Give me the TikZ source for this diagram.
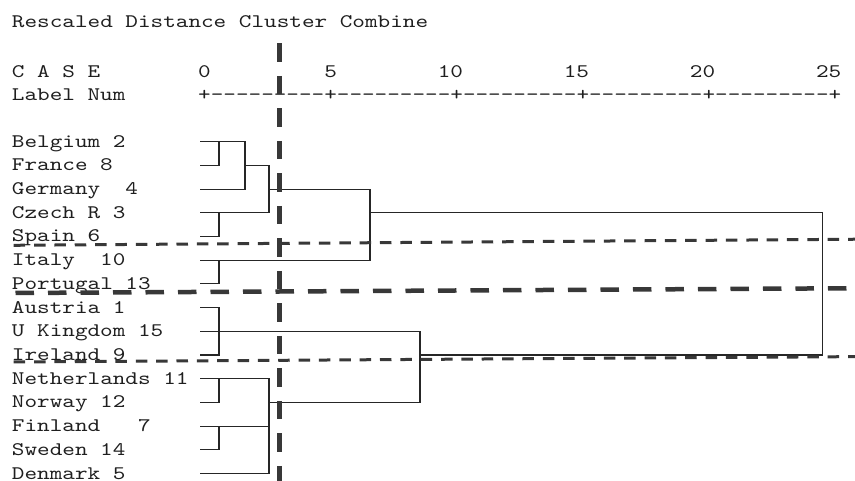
\documentclass[tikz,border=0pt]{standalone}
\usepackage{fontspec}
% Courier-like typewriter face: Latin Modern Mono, widened to a 12.6pt cell
\newfontfamily\spssmono[Extension=.otf, FakeStretch=1.251, Ligatures={TeXOff,CommonOff}]{lmmono10-regular}
\begin{document}
\begin{tikzpicture}[x=1pt, y=-1pt,
  txt/.style={anchor=base west, inner sep=0pt, outer sep=0pt, text depth=0pt,
    font=\spssmono\fontsize{19.2}{23.7}\selectfont, text=black!88},
  num/.style={txt, anchor=base east},
  tree/.style={draw=black!85, line width=1.1pt},
  cutthin/.style={draw=black!78, line width=3pt, dash pattern=on 11.5pt off 8.85pt},
  cutthick/.style={draw=black!78, line width=5pt, dash pattern=on 18.5pt off 14pt}
]
\useasboundingbox (0,0) rectangle (855,481);

% header
\node[txt] (title) at (12,28) {Rescaled Distance Cluster Combine};
\node[txt] (case) at (12,77.5) {C A S E};
\node[txt] (lnum) at (12,101) {Label Num};
\foreach \k/\v in {0/0,1/5,2/10,3/15,4/20,5/25}
  \node[num] (tick\v) at ({204.5+126.1*\k+6.3},77.5) {\v};
\node[txt] (axis) at (198.2,101) {+---------+---------+---------+---------+---------+};

% case labels and the start of each leaf line
\foreach \i/\t in {0/Belgium 2, 1/France 8, 2/Germany\ \ 4, 3/Czech R 3, 4/Spain 6,
    5/Italy\ \ 10, 6/Portugal 13, 7/Austria 1, 8/U Kingdom 15, 9/Ireland 9,
    10/Netherlands 11, 11/Norway 12, 12/Finland\ \ \ 7, 13/Sweden 14, 14/Denmark 5}{
  \node[txt] (lab\i) at (12,{141.7+23.7*\i+5.5}) {\t};
  \coordinate (t\i) at (200,{141.7+23.7*\i});
}

% merge levels
\coordinate (ja) at (219,0);
\coordinate (jb) at (245,0);
\coordinate (jc) at (269,0);
\coordinate (jd) at (370,0);
\coordinate (je) at (420,0);
\coordinate (jf) at (822.5,0);

% dendrogram
\draw[tree] (t0) -- (t0 -| jb) -- (t2 -| jb) -- (t2);
\draw[tree] (t1) -- (t1 -| ja) -- (t0 -| ja);
\draw[tree] (t1 -| jb) -- (t1 -| jc) -- (t3 -| jc) -- (t3);
\draw[tree] (t4) -- (t4 -| ja) -- (t3 -| ja);
\draw[tree] (t2 -| jc) -- (t2 -| jd) -- (t5 -| jd) -- (t5);
\draw[tree] (t6) -- (t6 -| ja) -- (t5 -| ja);
\draw[tree] (t3 -| jd) -- (t3 -| jf) -- (t9 -| jf) -- (t9 -| je);
\draw[tree] (t7) -- (t7 -| ja) -- (t9 -| ja) -- (t9);
\draw[tree] (t8) -- (t8 -| je) -- (t11 -| je) -- (t11 -| jc);
\draw[tree] (t10) -- (t10 -| jc) -- (t14 -| jc) -- (t14);
\draw[tree] (t11) -- (t11 -| ja) -- (t10 -| ja);
\draw[tree] (t12) -- (t12 -| jc);
\draw[tree] (t13) -- (t13 -| ja) -- (t12 -| ja);

% cut lines
\coordinate (vtop) at (279.3,43.3);
\coordinate (vbot) at (279.3,490);
\draw[cutthick] (vtop) -- (vbot);
\coordinate (c1l) at (13.7,245.3);
\coordinate (c1r) at (860,239.2);
\draw[cutthin] (c1l) -- (c1r);
\coordinate (c2l) at (15.5,293);
\coordinate (c2r) at (860,288.2);
\draw[cutthick, line width=4.5pt] (c2l) -- (c2r);
\coordinate (c3l) at (13.7,362);
\coordinate (c3r) at (860,356.6);
\draw[cutthin] (c3l) -- (c3r);
\end{tikzpicture}
\end{document}
